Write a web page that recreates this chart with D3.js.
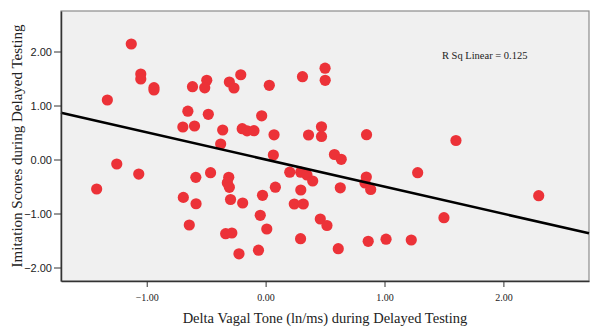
<!DOCTYPE html>
<html>
<head>
<meta charset="utf-8">
<script src="https://cdn.jsdelivr.net/npm/d3@7"></script>
<style>
  body { margin: 0; background: #fff; }
  svg { display: block; }
</style>
</head>
<body>
<svg id="chart" width="600" height="335"></svg>
<script>
// Delta vagal tone (x) vs imitation score (y), one entry per child
const vagalTone = [
  -1.130, -1.050, -1.050, -0.939, -0.939, -1.331, -0.615, -0.654, -0.696, -0.598,
  -0.495, -0.512, -0.305, -0.266, -0.209, 0.031, 0.310, 0.500, 0.501, -0.482,
  -0.033, -0.361, -0.197, -0.156, -0.098, 0.071, 0.361, 0.470, 0.470, 0.849,
  -0.378, 1.601, -1.421, -1.252, -1.067, -0.587, -0.692, -0.585, -0.642, 0.065,
  0.579, 0.636, -0.463, -0.310, -0.322, -0.305, 0.203, 0.295, 0.348, 0.396,
  0.847, 0.836, 0.884, 0.082, 0.296, 0.628, -0.295, -0.193, -0.026, 0.241,
  0.317, -0.045, -0.336, -0.284, 0.010, 0.460, 0.516, 0.294, 0.863, 0.611,
  -0.224, -0.060, 1.279, 2.297, 1.500, 1.013, 1.225
];
const imitation = [
  2.139, 1.583, 1.491, 1.330, 1.287, 1.102, 1.348, 0.894, 0.602, 0.620,
  1.467, 1.328, 1.435, 1.324, 1.569, 1.374, 1.533, 1.691, 1.467, 0.837,
  0.809, 0.546, 0.570, 0.531, 0.533, 0.457, 0.454, 0.606, 0.426, 0.459,
  0.287, 0.352, -0.546, -0.083, -0.269, -0.331, -0.702, -0.819, -1.213, 0.083,
  0.093, 0.004, -0.244, -0.330, -0.430, -0.515, -0.235, -0.235, -0.287, -0.398,
  -0.324, -0.435, -0.556, -0.513, -0.565, -0.524, -0.741, -0.806, -0.663, -0.824,
  -0.824, -1.033, -1.374, -1.361, -1.287, -1.102, -1.222, -1.467, -1.515, -1.652,
  -1.746, -1.680, -0.244, -0.670, -1.078, -1.476, -1.491
];
const xTicks = [-1, 0, 1, 2];
const yTicks = [-2, -1, 0, 1, 2];
const fitIntercept = 0.001;
const fitSlope = -0.503;
const rSqLabel = "R Sq Linear = 0.125";

const svg = d3.select("#chart");
const margin = { top: 11, right: 11, bottom: 54, left: 61 };
const width = 600, height = 335;
const innerW = width - margin.left - margin.right;
const innerH = height - margin.top - margin.bottom;

const x = d3.scaleLinear().domain([-1.721, 2.720]).range([0, innerW]);
const y = d3.scaleLinear().domain([-2.25, 2.75]).range([innerH, 0]);

const g = svg.append("g").attr("transform", `translate(${margin.left},${margin.top})`);

// plot background + frame
g.append("rect")
  .attr("x", 0).attr("y", 0)
  .attr("width", innerW).attr("height", innerH)
  .attr("fill", "#f0f0f0")
  .attr("stroke", "#8c8c8c")
  .attr("stroke-width", 1.2);

// points
const pts = vagalTone.map((v, i) => ({ x: v, y: imitation[i] }));
g.selectAll("circle.pt")
  .data(pts)
  .enter().append("circle")
  .attr("class", "pt")
  .attr("cx", d => x(d.x))
  .attr("cy", d => y(d.y))
  .attr("r", 5.6)
  .attr("fill", "#ec3238");

// fit line
const xd = x.domain();
g.append("line")
  .attr("x1", x(xd[0])).attr("y1", y(fitIntercept + fitSlope * xd[0]))
  .attr("x2", x(xd[1])).attr("y2", y(fitIntercept + fitSlope * xd[1]))
  .attr("stroke", "#000")
  .attr("stroke-width", 2.6);

// x axis
const xAxis = g.append("g")
  .attr("transform", `translate(0,${innerH})`)
  .call(d3.axisBottom(x).tickValues(xTicks).tickFormat(d3.format(".2f")).tickSize(6).tickSizeOuter(0));
xAxis.select(".domain").attr("stroke", "#333").attr("stroke-width", 1.5);
xAxis.selectAll(".tick line").attr("stroke", "#333");
xAxis.selectAll("text")
  .attr("font-family", "'Liberation Serif', 'Times New Roman', serif")
  .attr("font-size", "10px")
  .attr("fill", "#222")
  .attr("dy", "1.1em");

// y axis
const yAxis = g.append("g")
  .call(d3.axisLeft(y).tickValues(yTicks).tickFormat(d3.format(".2f")).tickSize(7).tickSizeOuter(0));
yAxis.select(".domain").attr("stroke", "#333").attr("stroke-width", 1.5);
yAxis.selectAll(".tick line").attr("stroke", "#333");
yAxis.selectAll("text")
  .attr("font-family", "'Liberation Sans', Arial, sans-serif")
  .attr("font-size", "11px")
  .attr("fill", "#222")
  .attr("x", -9);

// R squared label
g.append("text")
  .attr("x", x(1.483))
  .attr("y", y(1.86))
  .attr("font-family", "'Liberation Serif', 'Times New Roman', serif")
  .attr("font-size", "10.5px")
  .attr("fill", "#222")
  .text(rSqLabel);

// axis titles
svg.append("text")
  .attr("x", margin.left + innerW / 2)
  .attr("y", 323)
  .attr("text-anchor", "middle")
  .attr("font-family", "'Liberation Serif', 'Times New Roman', serif")
  .attr("font-size", "14.5px")
  .attr("fill", "#222")
  .text("Delta Vagal Tone (ln/ms) during Delayed Testing");

svg.append("text")
  .attr("transform", `translate(22,${margin.top + innerH / 2}) rotate(-90)`)
  .attr("text-anchor", "middle")
  .attr("font-family", "'Liberation Serif', 'Times New Roman', serif")
  .attr("font-size", "15px")
  .attr("fill", "#222")
  .text("Imitation Scores during Delayed Testing");
</script>
</body>
</html>
